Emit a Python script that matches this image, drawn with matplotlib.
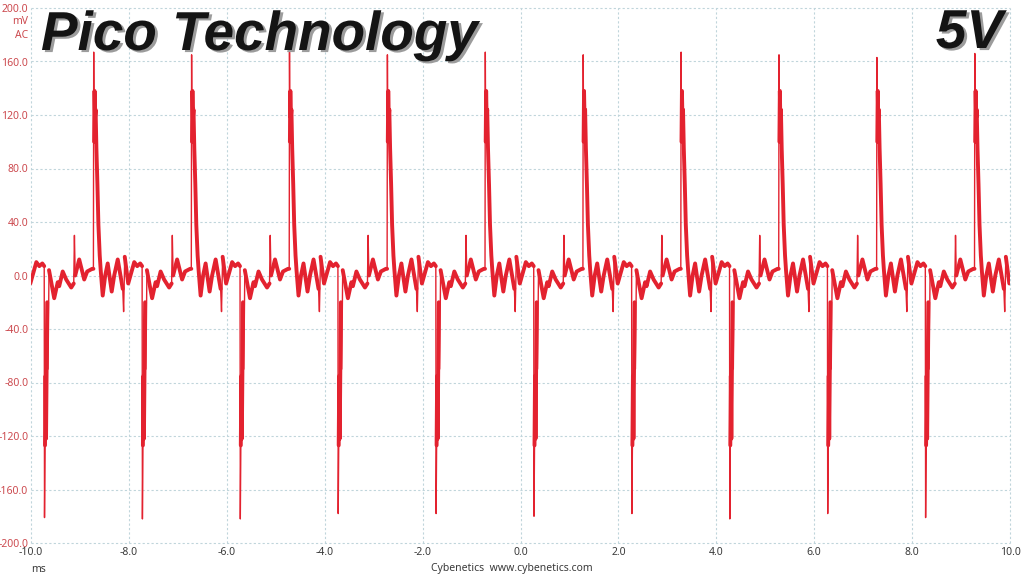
import numpy as np
import matplotlib
matplotlib.use("Agg")
import matplotlib.pyplot as plt
import matplotlib.patheffects as pe

# ---------------- data ----------------
# time of each negative switching spike (ms); the first one lies left of the window
NEG_SPIKE_T = [-11.73, -9.73, -7.73, -5.73, -3.73, -1.73, 0.27, 2.27, 4.27, 6.27, 8.27]
NEG_PEAK = [-181, -181, -182, -182, -178, -178, -180, -178, -182, -178, -181]
POS_PEAK = [167, 167, 165, 167, 165, 167, 165, 167, 165, 163, 166]

# shape of one ripple cycle: phase after the negative spike (ms), value (mV)
CYCLE_PHASE = [0.000, 0.006, 0.016, 0.027, 0.037, 0.049, 0.061, 0.078, 0.098,
               0.143, 0.204, 0.276, 0.306, 0.378, 0.449, 0.552, 0.603, 0.617,
               0.633, 0.715, 0.817, 0.878, 0.981, 1.005, 1.011, 1.019, 1.028,
               1.038, 1.050, 1.066, 1.087, 1.107, 1.134, 1.154, 1.195, 1.246,
               1.297, 1.379, 1.430, 1.502, 1.604, 1.622, 1.645, 1.716, 1.777,
               1.839, 1.900, 1.961]
CYCLE_MV = [7, -180, -127, -75, -122, -68, -20, -70, 4,
            -5, -17, -5, -8, 3, -3, -9, -6, 30,
            0, 12, -3, 3, 5, 5, 165, 100, 138,
            118, 124, 95, 68, 38, 15, 4, -15, 0,
            9, -12, 0, 12, -10, -27, 14, -6, 2,
            10, 7, 9]
# 1 = part of the noisy (thick) trace body, 0 = thin single-sample spike
CYCLE_BODY = [1, 0, 1, 1, 1, 1, 1, 0, 1,
              1, 1, 1, 1, 1, 1, 1, 1, 0,
              1, 1, 1, 1, 1, 1, 0, 1, 1,
              1, 1, 1, 1, 1, 1, 1, 1, 1,
              1, 1, 1, 1, 1, 0, 1, 1, 1,
              1, 1, 1]
NEG_IDX = 1
POS_IDX = 24

Y_TICKS = [-200, -160, -120, -80, -40, 0, 40, 80, 120, 160, 200]
X_TICKS = [-10, -8, -6, -4, -2, 0, 2, 4, 6, 8, 10]

# ---------------- build trace ----------------
t_list, v_list, b_list = [], [], []
for k, t0 in enumerate(NEG_SPIKE_T):
    vals = list(CYCLE_MV)
    vals[NEG_IDX] = NEG_PEAK[k]
    vals[POS_IDX] = POS_PEAK[k]
    for ph, v, b in zip(CYCLE_PHASE, vals, CYCLE_BODY):
        t_list.append(t0 + ph)
        v_list.append(v)
        b_list.append(b)
t = np.array(t_list)
v = np.array(v_list, dtype=float)
body = np.array(b_list, dtype=bool)
v_body = np.where(body, v, np.nan)

# ---------------- figure ----------------
RED = "#e3222f"
LABEL_RED = "#cc4a4f"
GRID = "#c0d5db"
FONT = "Noto Sans"

fig = plt.figure(figsize=(10.24, 5.76), dpi=100)
fig.patch.set_facecolor("white")
ax = fig.add_axes([31 / 1024, 33 / 576, 979 / 1024, 535 / 576])
ax.set_xlim(-10, 10)
ax.set_ylim(-200, 200)

for s in ax.spines.values():
    s.set_visible(False)

ax.set_xticks(X_TICKS)
ax.set_yticks(Y_TICKS)
ax.set_xticklabels([f"{x:.1f}" for x in X_TICKS], fontsize=7.5, color="#3a3a3a", family=FONT)
ax.set_yticklabels([f"{y:.1f}" for y in Y_TICKS], fontsize=7.5, color=LABEL_RED, family=FONT)
ax.tick_params(axis="both", length=0)
ax.tick_params(axis="x", pad=3)
ax.tick_params(axis="y", pad=2)
ax.grid(True, color=GRID, linestyle=(0, (2.0, 2.0)), linewidth=0.8)
for gl in ax.get_xgridlines() + ax.get_ygridlines():
    gl.set_clip_on(False)
ax.set_axisbelow(True)

ax.plot(t, v, color=RED, linewidth=1.0, solid_joinstyle="round", zorder=3)
ax.plot(t, v_body, color=RED, linewidth=2.8, solid_joinstyle="round",
        solid_capstyle="round", zorder=4)

# unit labels
fig.text(28 / 1024, 1 - 22 / 576, "mV", ha="right", va="center", fontsize=7.5,
         color=LABEL_RED, family=FONT)
fig.text(28 / 1024, 1 - 36 / 576, "AC", ha="right", va="center", fontsize=7.5,
         color=LABEL_RED, family=FONT)
fig.text(38 / 1024, 1 - 569 / 576, "ms", ha="center", va="center", fontsize=7.5,
         color="#3a3a3a", family=FONT)
fig.text(512 / 1024, 1 - 569 / 576, "Cybenetics  www.cybenetics.com", ha="center",
         va="center", fontsize=7.5, color="#3a3a3a", family=FONT)

# titles with shaded 3D look
effects = [pe.SimplePatchShadow(offset=(2.0, -1.5), shadow_rgbFace="#9c9c9c", alpha=1.0),
           pe.Normal()]
fig.text(41 / 1024, 1 - 50 / 576, "Pico Technology", ha="left", va="baseline",
         fontsize=39.5, fontweight="bold", fontstyle="italic", family="Liberation Sans",
         color="#141414", path_effects=effects, zorder=10)
fig.text(1003 / 1024, 1 - 48 / 576, "5V", ha="right", va="baseline",
         fontsize=39.5, fontweight="bold", fontstyle="italic", family="Liberation Sans",
         color="#141414", path_effects=effects, zorder=10)

fig.savefig("out.png", dpi=100, facecolor="white")
